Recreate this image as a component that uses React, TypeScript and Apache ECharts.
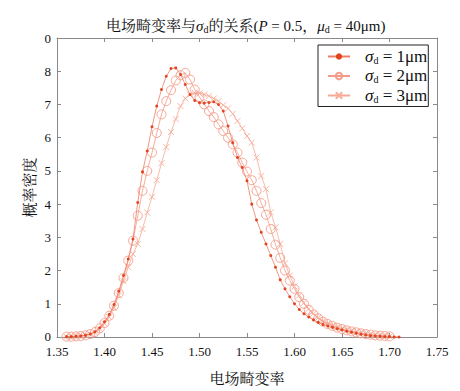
import React, { useEffect, useRef } from "react";
import * as echarts from "echarts";

const xs = [
  1.36, 1.365, 1.37, 1.375, 1.38, 1.385, 1.39, 1.395, 1.4, 1.405,
  1.41, 1.415, 1.42, 1.425, 1.43, 1.435, 1.44, 1.445, 1.45, 1.455,
  1.46, 1.465, 1.47, 1.475, 1.48, 1.485, 1.49, 1.495, 1.5, 1.505,
  1.51, 1.515, 1.52, 1.525, 1.53, 1.535, 1.54, 1.545, 1.55, 1.555,
  1.56, 1.565, 1.57, 1.575, 1.58, 1.585, 1.59, 1.595, 1.6, 1.605,
  1.61, 1.615, 1.62, 1.625, 1.63, 1.635, 1.64, 1.645, 1.65, 1.655,
  1.66, 1.665, 1.67, 1.675, 1.68, 1.685, 1.69, 1.695, 1.7, 1.705, 1.71,
];

const sigma1 = [
  0.01, 0.01, 0.02, 0.03, 0.05, 0.09, 0.16, 0.28, 0.46, 0.68,
  0.98, 1.38, 1.85, 2.35, 2.95, 4.05, 4.97, 5.6, 6.33, 6.95,
  7.45, 7.85, 8.08, 8.1, 7.9, 7.6, 7.3, 7.12, 7.05, 7.04,
  7.06, 7.08, 7.0, 6.8, 6.35, 5.85, 5.4, 5.1, 4.7, 4.0,
  3.52, 3.15, 2.8, 2.45, 2.1, 1.72, 1.45, 1.21, 1.0, 0.83,
  0.7, 0.6, 0.51, 0.44, 0.38, 0.33, 0.29, 0.25, 0.21, 0.17,
  0.14, 0.11, 0.08, 0.06, 0.04, 0.03, 0.02, 0.01, 0.01, 0.0, 0.0,
];

const sigma2 = [
  0.01, 0.01, 0.02, 0.03, 0.05, 0.09, 0.15, 0.26, 0.42, 0.64,
  0.94, 1.32, 1.78, 2.3, 2.9, 3.65, 4.4, 5.0, 5.55, 6.14,
  6.7, 7.1, 7.43, 7.72, 7.88, 7.95, 7.75, 7.45, 7.22, 7.0,
  6.8, 6.62, 6.4, 6.2, 6.0, 5.8, 5.55, 5.25, 4.98, 4.72,
  4.4, 4.03, 3.68, 3.25, 2.78, 2.38, 2.0, 1.7, 1.45, 1.2,
  1.0, 0.82, 0.68, 0.56, 0.46, 0.39, 0.33, 0.28, 0.24, 0.2,
  0.17, 0.14, 0.11, 0.09, 0.07, 0.05, 0.04, 0.03, 0.02,
];

const sigma3 = [
  0.01, 0.01, 0.02, 0.03, 0.05, 0.08, 0.14, 0.24, 0.4, 0.6,
  0.88, 1.25, 1.68, 2.1, 2.5, 2.8, 3.25, 3.75, 4.22, 4.72,
  5.23, 5.72, 6.17, 6.56, 6.95, 7.18, 7.3, 7.35, 7.33, 7.3,
  7.25, 7.18, 7.1, 6.98, 6.88, 6.72, 6.5, 6.28, 6.05, 5.85,
  5.4, 4.85, 4.45, 3.75, 3.3, 2.8, 2.22, 1.85, 1.52, 1.25,
  1.03, 0.85, 0.7, 0.58, 0.48, 0.41, 0.35, 0.3, 0.26, 0.22,
  0.19, 0.16, 0.13, 0.1, 0.08, 0.06, 0.04, 0.03, 0.02,
];

const sigmaValues = ["1", "2", "3"];
const yTickLabels = ["0", "1", "2", "3", "4", "5", "6", "7", "8", "0"];
const titleText = "电场畸变率与";
const xName = "电场畸变率";
const yName = "概率密度";

const FONT = "'Liberation Serif', 'Noto Serif CJK SC', 'Noto Sans CJK SC', serif";

const pairs = (vals: number[]) => vals.map((v, i) => [xs[i], v]);

export default function App() {
  const ref = useRef<HTMLDivElement>(null);
  useEffect(() => {
    if (!ref.current) return;
    const chart = echarts.init(ref.current, null, { renderer: "svg" });
    const names = sigmaValues.map((s) => `s${s}`);
    const subRich = {
      n: { fontFamily: FONT, fontSize: 15, fontWeight: "normal", color: "#111" },
      i: { fontFamily: FONT, fontSize: 15, fontWeight: "normal", fontStyle: "italic", color: "#111" },
      s: { fontFamily: FONT, fontSize: 10, fontWeight: "normal", color: "#111", padding: [7, 0, 0, 0] },
    };
    const axisCommon = {
      type: "value" as const,
      axisLine: { show: true, onZero: false, lineStyle: { color: "#8a8a8a", width: 1 } },
      axisTick: { show: true, inside: true, length: 4, lineStyle: { color: "#8a8a8a" } },
      splitLine: { show: false },
    };
    chart.setOption({
      animation: false,
      backgroundColor: "#fff",
      title: {
        text: `{n|${titleText}}{i|σ}{s|d}{n|的关系(}{i|P}{n| = 0.5，}{i|μ}{s|d}{n| = 40μm)}`,
        left: 101,
        top: 13,
        textStyle: { fontWeight: "normal", rich: subRich },
      },
      legend: {
        orient: "vertical",
        left: 318,
        top: 45,
        padding: [3, 1, 2, 9],
        borderColor: "#222",
        borderWidth: 1,
        itemWidth: 22,
        itemHeight: 8,
        itemGap: 2,
        data: names,
        formatter: (name: string) =>
          `{g|}{i|σ}{s|d}{n| = ${name.slice(1)}μm}`,
        textStyle: {
          rich: {
            g: { width: 10 },
            n: { fontFamily: FONT, fontSize: 17, color: "#111" },
            i: { fontFamily: FONT, fontSize: 17, fontStyle: "italic", color: "#111" },
            s: { fontFamily: FONT, fontSize: 10, color: "#111", padding: [8, 0, 0, 0] },
          },
        },
      },
      grid: { left: 57, right: 23, top: 38, bottom: 54, containLabel: false },
      xAxis: [
        {
          ...axisCommon,
          position: "bottom",
          min: 1.35,
          max: 1.75,
          interval: 0.05,
          name: xName,
          nameLocation: "middle",
          nameGap: 34,
          nameMoveOverlap: false,
          nameTextStyle: { fontFamily: FONT, fontSize: 15, color: "#111" },
          axisLabel: {
            fontFamily: FONT,
            fontSize: 13,
            color: "#111",
            margin: 8,
            formatter: (v: number) => v.toFixed(2),
          },
        },
        {
          ...axisCommon,
          position: "top",
          min: 1.35,
          max: 1.75,
          interval: 0.05,
          axisLabel: { show: false },
        },
      ],
      yAxis: [
        {
          ...axisCommon,
          position: "left",
          min: 0,
          max: 9,
          interval: 1,
          name: yName,
          nameLocation: "middle",
          nameGap: 20,
          nameRotate: 90,
          nameMoveOverlap: false,
          nameTextStyle: { fontFamily: FONT, fontSize: 15, color: "#111" },
          axisLabel: {
            fontFamily: FONT,
            fontSize: 13,
            color: "#111",
            margin: 6,
            formatter: (v: number) => yTickLabels[Math.round(v)],
          },
        },
        {
          ...axisCommon,
          position: "right",
          min: 0,
          max: 9,
          interval: 1,
          axisLabel: { show: false },
        },
      ],
      series: [
        {
          name: names[0],
          type: "line",
          data: pairs(sigma1),
          symbol: "circle",
          symbolSize: 3,
          showAllSymbol: true,
          lineStyle: { color: "#ef7d64", width: 0.8 },
          itemStyle: { color: "#e2441f" },
          z: 4,
        },
        {
          name: names[1],
          type: "line",
          data: pairs(sigma2),
          symbol: "circle",
          symbolSize: 9,
          showAllSymbol: true,
          lineStyle: { color: "#f29a86", width: 0.8 },
          itemStyle: { color: "rgba(0,0,0,0)", borderColor: "#f39c8a", borderWidth: 0.9 },
          z: 3,
        },
        {
          name: names[2],
          type: "line",
          data: pairs(sigma3),
          symbol: "path://M0,0L10,10M10,0L0,10",
          symbolSize: 6,
          showAllSymbol: true,
          lineStyle: { color: "#f5a994", width: 0.8 },
          itemStyle: { color: "rgba(0,0,0,0)", borderColor: "#f6ae9a", borderWidth: 0.9 },
          z: 2,
        },
      ],
    });
    return () => chart.dispose();
  }, []);
  return (
    <div
      ref={ref}
      style={{ position: "fixed", left: 0, top: 0, width: 460, height: 391 }}
    />
  );
}
